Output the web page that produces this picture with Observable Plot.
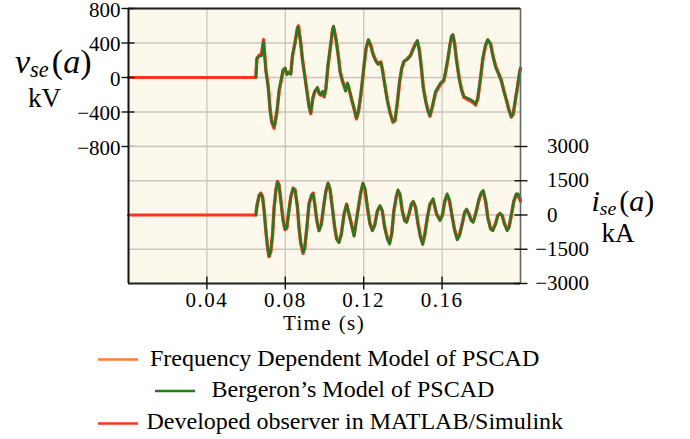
<!DOCTYPE html>
<html><head><meta charset="utf-8">
<script src="https://cdn.jsdelivr.net/npm/d3@7"></script>
<script src="https://cdn.jsdelivr.net/npm/@observablehq/plot@0.6"></script>
<style>
body{margin:0;background:#fff;}
#wrap{position:relative;width:690px;height:439px;font-family:"Liberation Serif",serif;}
#wrap svg{position:absolute;left:0;top:0;overflow:visible;}
[aria-label="x-axis tick label"]{letter-spacing:1.5px;}
</style></head><body><div id="wrap"></div>
<script>
// ---------- data ----------
const seriesNames = ["Frequency Dependent Model of PSCAD", "Bergeron\u2019s Model of PSCAD", "Developed observer in MATLAB/Simulink"];
const seriesColors = ["#ff7b3a", "#237a23", "#ff3322"];
const xTicks = [0.04, 0.08, 0.12, 0.16];
const vTicks = [-800, -400, 0, 400, 800];
const iTicks = [-3000, -1500, 0, 1500, 3000];

// voltage panel (kV)
const timeV = [0,0.0650,0.0655,0.0667,0.0679,0.0689,0.0701,0.0713,0.0723,0.0731,0.0743,0.0757,0.0769,0.0781,0.0789,0.0799,0.0808,0.0820,0.0828,0.0837,0.0849,0.0862,0.0867,0.0879,0.0888,0.0900,0.0910,0.0922,0.0930,0.0940,0.0950,0.0964,0.0973,0.0981,0.0990,0.0998,0.1007,0.1018,0.1029,0.1041,0.1046,0.1057,0.1069,0.1080,0.1091,0.1108,0.1117,0.1125,0.1137,0.1151,0.1163,0.1173,0.1185,0.1193,0.1202,0.1212,0.1224,0.1236,0.1247,0.1261,0.1273,0.1287,0.1295,0.1307,0.1321,0.1334,0.1349,0.1360,0.1372,0.1383,0.1394,0.1405,0.1423,0.1439,0.1453,0.1465,0.1474,0.1484,0.1494,0.1504,0.1516,0.1528,0.1538,0.1550,0.1567,0.1592,0.1609,0.1618,0.1630,0.1640,0.1648,0.1655,0.1664,0.1674,0.1686,0.1698,0.1711,0.1728,0.1745,0.1759,0.1771,0.1782,0.1796,0.1808,0.1822,0.1833,0.1847,0.1861,0.1874,0.1889,0.1902,0.1915,0.1929,0.1940,0.1953,0.1963,0.1975,0.1986,0.1996,0.2000];
const vFreqDep = [null,0,220,255,262,430,82,-110,-386,-515,-580,-400,-142,-8,86,106,38,60,40,258,392,574,592,392,198,8,-155,-346,-416,-244,-165,-118,-185,-202,-165,-221,-128,143,337,552,590,466,276,62,-36,-155,-68,-126,-241,-359,-475,-396,-204,-49,145,337,436,372,274,198,158,175,99,-75,-270,-405,-514,-495,-283,-49,106,185,214,254,333,392,425,313,118,-115,-270,-386,-445,-342,-167,-71,-31,66,221,377,475,495,390,195,8,-132,-224,-246,-263,-286,-312,-244,-8,221,377,436,390,234,118,40,-36,-155,-270,-368,-455,-420,-244,-88,66,106];
const vBergeron = [null,0,228,248,250,414,73,-121,-392,-508,-567,-392,-136,0,93,112,35,53,35,267,384,577,585,384,190,0,-159,-353,-411,-237,-159,-113,-179,-198,-159,-217,-121,151,344,558,597,461,267,53,-43,-159,-62,-121,-237,-353,-469,-392,-198,-43,151,344,442,364,267,190,151,170,93,-81,-276,-411,-508,-489,-276,-43,112,190,209,248,326,384,430,306,112,-121,-276,-392,-440,-334,-159,-62,-23,73,228,384,480,500,384,190,0,-140,-217,-237,-256,-276,-305,-237,0,228,384,442,384,228,112,35,-43,-159,-276,-372,-450,-411,-237,-81,73,112];
const vObserver = [0,0,215,260,270,440,90,-100,-380,-520,-590,-410,-150,-15,80,100,40,65,45,250,400,570,600,400,205,15,-150,-340,-420,-250,-170,-125,-190,-205,-170,-225,-135,135,330,545,585,470,285,70,-30,-150,-75,-130,-245,-365,-480,-400,-210,-55,140,330,430,380,280,205,165,180,105,-70,-265,-400,-520,-500,-290,-55,100,180,220,260,340,400,420,320,125,-110,-265,-380,-450,-350,-175,-80,-40,60,215,370,470,490,395,200,15,-125,-230,-255,-270,-295,-320,-250,-15,215,370,430,395,240,125,45,-30,-150,-265,-365,-460,-430,-250,-95,60,100];

// current panel (kA)
const timeI = [0,0.0650,0.0655,0.0667,0.0675,0.0684,0.0692,0.0701,0.0709,0.0717,0.0726,0.0735,0.0743,0.0752,0.0760,0.0768,0.0777,0.0789,0.0799,0.0808,0.0816,0.0828,0.0840,0.0850,0.0862,0.0870,0.0879,0.0891,0.0899,0.0910,0.0921,0.0934,0.0942,0.0950,0.0961,0.0972,0.0984,0.0995,0.1006,0.1018,0.1028,0.1040,0.1052,0.1062,0.1074,0.1086,0.1100,0.1113,0.1130,0.1151,0.1168,0.1185,0.1196,0.1207,0.1219,0.1232,0.1244,0.1256,0.1270,0.1283,0.1295,0.1307,0.1321,0.1332,0.1343,0.1354,0.1367,0.1375,0.1385,0.1397,0.1409,0.1419,0.1431,0.1443,0.1453,0.1465,0.1477,0.1490,0.1501,0.1511,0.1525,0.1538,0.1554,0.1572,0.1589,0.1601,0.1614,0.1626,0.1638,0.1652,0.1664,0.1677,0.1689,0.1703,0.1715,0.1725,0.1737,0.1749,0.1759,0.1771,0.1788,0.1800,0.1810,0.1822,0.1833,0.1847,0.1859,0.1873,0.1884,0.1895,0.1907,0.1918,0.1932,0.1942,0.1954,0.1966,0.1978,0.1988,0.1996,0.2000];
const iFreqDep = [null,0,390,870,945,790,195,-698,-1375,-1810,-1598,-852,334,1085,1458,1310,642,-246,-630,-560,42,786,1166,1090,344,-556,-1228,-1660,-1455,-560,484,868,946,494,-246,-688,-395,334,996,1390,1142,328,-546,-1048,-1198,-832,47,474,-145,-906,47,986,1375,1132,328,-390,-674,-458,186,396,180,-536,-1038,-1250,-822,186,834,1075,906,180,-242,-310,42,470,582,324,-390,-967,-1265,-894,-104,470,690,42,-226,-26,612,900,618,-104,-668,-1050,-885,-380,112,248,37,-236,-305,42,680,966,1040,612,-104,-591,-664,-380,-26,66,-30,-380,-668,-525,42,608,896,896,750,625];
const iBergeron = [null,0,400,857,932,781,191,-697,-1363,-1790,-1585,-844,337,1079,1447,1301,635,-253,-622,-551,44,781,1154,1079,337,-551,-1217,-1640,-1439,-551,488,857,932,488,-253,-697,-400,337,1003,1400,1154,337,-551,-1066,-1217,-844,44,488,-150,-932,44,1003,1400,1154,337,-400,-697,-475,191,413,191,-551,-1066,-1280,-844,191,857,1110,932,191,-253,-329,44,488,604,337,-400,-994,-1300,-919,-107,488,720,44,-253,-31,635,932,635,-107,-697,-1100,-919,-400,115,266,44,-253,-329,44,710,1003,1079,635,-107,-622,-697,-400,-31,71,-31,-400,-697,-551,44,635,932,932,781,650];
const iObserver = [0,0,380,880,960,800,200,-700,-1390,-1830,-1610,-860,330,1090,1470,1320,650,-240,-640,-570,40,790,1180,1100,350,-560,-1240,-1680,-1470,-570,480,880,960,500,-240,-680,-390,330,990,1380,1130,320,-540,-1030,-1180,-820,50,460,-140,-880,50,970,1350,1110,320,-380,-650,-440,180,380,170,-520,-1010,-1220,-800,180,810,1040,880,170,-230,-290,40,450,560,310,-380,-940,-1230,-870,-100,450,660,40,-200,-20,590,870,600,-100,-640,-1000,-850,-360,110,230,30,-220,-280,40,650,930,1000,590,-100,-560,-630,-360,-20,60,-30,-360,-640,-500,40,580,860,860,720,600];

// ---------- build ----------
const rows = (times, vals) => times.map((t, i) => ({t, v: vals[i]})).filter(d => d.v != null);
const BG = "#fcf8ec", GRID = "#ccc7bc", FONT = "Liberation Serif";
const fmt = d => (d < 0 ? "\u2212" + Math.abs(d) : String(d));
const wrap = document.getElementById("wrap");

function traces(times, a, b, c) {
  return [
    Plot.line(rows(times, a), {x: "t", y: "v", stroke: seriesColors[0], strokeWidth: 3.6, strokeOpacity: 0.8}),
    Plot.line(rows(times, c), {x: "t", y: "v", stroke: seriesColors[2], strokeWidth: 3.1}),
    Plot.line(rows(times, b), {x: "t", y: "v", stroke: seriesColors[1], strokeWidth: 2.4})
  ];
}

const topPlot = Plot.plot({
  width: 690, height: 150, marginLeft: 128, marginRight: 170, marginTop: 8, marginBottom: 4,
  x: {domain: [0, 0.2], axis: null, label: null},
  y: {domain: [-800, 800], axis: null, label: null},
  style: {background: "none", fontFamily: FONT, fontSize: "21px", color: "#000", overflow: "visible"},
  marks: [
    Plot.frame({fill: BG, stroke: null}),
    Plot.gridX(xTicks, {stroke: GRID, strokeOpacity: 1, strokeWidth: 1.3}),
    Plot.gridY(vTicks, {stroke: GRID, strokeOpacity: 1, strokeWidth: 1.3}),
    ...traces(timeV, vFreqDep, vBergeron, vObserver),
    Plot.ruleY([800], {stroke: "#222", strokeWidth: 1.8}),
    Plot.ruleX([0], {stroke: "#111", strokeWidth: 2}),
    Plot.ruleX([0.2], {stroke: "#666", strokeWidth: 1.6}),
    Plot.axisY(vTicks, {anchor: "left", label: null, tickSize: 13, dx: 6.5, stroke: "#111", strokeWidth: 1.4, tickFormat: () => ""}),
    Plot.axisY(vTicks, {anchor: "left", label: null, tickSize: 0, tickPadding: 8, dy: 1.5, tickFormat: fmt, fontSize: 21, fontFamily: FONT, fill: "#000"})
  ]
});

const botPlot = Plot.plot({
  width: 690, height: 330, marginLeft: 128, marginRight: 170, marginTop: 146, marginBottom: 47,
  x: {domain: [0, 0.2], axis: null, label: null},
  y: {domain: [-3000, 3000], axis: null, label: null},
  style: {background: "none", fontFamily: FONT, fontSize: "21px", color: "#000", overflow: "visible"},
  marks: [
    Plot.frame({fill: BG, stroke: null}),
    Plot.gridX(xTicks, {stroke: GRID, strokeOpacity: 1, strokeWidth: 1.3}),
    Plot.gridY(iTicks, {stroke: GRID, strokeOpacity: 1, strokeWidth: 1.3}),
    ...traces(timeI, iFreqDep, iBergeron, iObserver),
    Plot.ruleY([-3000], {stroke: "#222", strokeWidth: 1.8}),
    Plot.ruleX([0], {stroke: "#111", strokeWidth: 2}),
    Plot.ruleX([0.2], {stroke: "#666", strokeWidth: 1.6}),
    Plot.axisX(xTicks, {anchor: "bottom", label: null, tickSize: 13, dy: -6.5, stroke: "#111", strokeWidth: 1.4, tickFormat: () => ""}),
    Plot.axisX(xTicks, {anchor: "bottom", label: null, tickSize: 0, tickPadding: 9, tickFormat: d => d.toFixed(2), fontSize: 21, fontFamily: FONT, fill: "#000"}),
    Plot.axisY(iTicks, {anchor: "right", label: null, tickSize: 13, dx: -6.5, stroke: "#111", strokeWidth: 1.4, tickFormat: () => ""}),
    Plot.axisY(iTicks.filter(d => d >= 0), {anchor: "right", label: null, tickSize: 0, tickPadding: 26.5, tickFormat: fmt, fontSize: 21, fontFamily: FONT, fill: "#000"}),
    Plot.axisY(iTicks.filter(d => d < 0), {anchor: "right", label: null, tickSize: 0, tickPadding: 14.7, tickFormat: fmt, fontSize: 21, fontFamily: FONT, fill: "#000"})
  ]
});

wrap.appendChild(topPlot);
wrap.appendChild(botPlot);

// ---------- labels & legend ----------
const ov = d3.select(wrap).append("svg").attr("width", 690).attr("height", 439)
  .attr("font-family", FONT).attr("fill", "#000");

function mathLabel(x, y, size, sub, main, dySub, gap) {
  const t = ov.append("text").attr("x", x).attr("y", y).attr("font-size", size);
  t.append("tspan").attr("font-style", "italic").text(main);
  t.append("tspan").attr("font-style", "italic").attr("font-size", size * 0.66).attr("dy", dySub).text(sub);
  t.append("tspan").attr("dy", -dySub).attr("dx", gap).text("(");
  t.append("tspan").attr("font-style", "italic").text("a");
  t.append("tspan").text(")");
}
mathLabel(15, 73, 34, "se", "v", 4, 3);
ov.append("text").attr("x", 28).attr("y", 107).attr("font-size", 27).text("kV");
mathLabel(591.5, 211, 30, "se", "i", 4, 3);
ov.append("text").attr("x", 601.5).attr("y", 241.5).attr("font-size", 27).text("kA");
ov.append("text").attr("x", 324).attr("y", 330).attr("font-size", 21).attr("text-anchor", "middle")
  .style("letter-spacing", "1.4px").text("Time (s)");

const legendPos = [[98, 359.5, 150, 365.5], [155, 391, 211.5, 397], [98, 423.5, 146.5, 429]];
seriesNames.forEach((name, i) => {
  const [sx, sy, tx, ty] = legendPos[i];
  ov.append("line").attr("x1", sx).attr("x2", sx + 40).attr("y1", sy).attr("y2", sy)
    .attr("stroke", seriesColors[i]).attr("stroke-width", 2.6);
  ov.append("text").attr("x", tx).attr("y", ty).attr("font-size", 24).text(name);
});
</script></body></html>
